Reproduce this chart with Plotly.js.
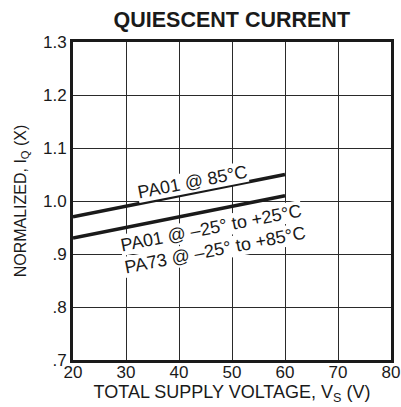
<!DOCTYPE html>
<html><head><meta charset="utf-8">
<script src="https://cdn.plot.ly/plotly-3.0.1.min.js"></script>
<style>html,body{margin:0;padding:0;background:#fff}#c{width:401px;height:407px}</style>
</head><body><div id="c"></div>
<script>
const voltage = [20, 60];
const pa01_85C = [0.97, 1.05];
const pa01_pa73_lowT = [0.93, 1.01];
const labels = ["PA01 @ 85°C", "PA01 @ –25° to +25°C", "PA73 @ –25° to +85°C"];
const xTicks = [20, 30, 40, 50, 60, 70, 80];
const yTicks = [0.7, 0.8, 0.9, 1.0, 1.1, 1.2, 1.3];
const yTickText = [".7", ".8", ".9", "1.0", "1.1", "1.2", "1.3"];

const font = "Liberation Sans, Arial, Helvetica, sans-serif";
const traces = [
  {x: voltage, y: pa01_85C, mode: "lines", line: {color: "#1a1a1a", width: 3.5}, hoverinfo: "skip"},
  {x: voltage, y: pa01_pa73_lowT, mode: "lines", line: {color: "#1a1a1a", width: 3.5}, hoverinfo: "skip"}
];
const layout = {
  width: 401, height: 407,
  margin: {l: 73, r: 10, t: 42, b: 47},
  paper_bgcolor: "#fff", plot_bgcolor: "#fff",
  showlegend: false,
  font: {family: font, color: "#1a1a1a", size: 17},
  title: {text: "<b>QUIESCENT CURRENT</b>", font: {family: font, size: 21.5, color: "#1a1a1a"}, x: 0.578, xanchor: "center", y: 0.97, yanchor: "top"},
  xaxis: {range: [20, 80], tickvals: xTicks, ticks: "", showgrid: true, gridcolor: "#2a2a2a", gridwidth: 1,
    showline: true, linecolor: "#1a1a1a", linewidth: 3, mirror: true, zeroline: false, fixedrange: true,
    tickfont: {size: 17}, ticklabelstandoff: -5,
    title: {text: "TOTAL SUPPLY VOLTAGE, V<sub>S</sub> (V)", font: {size: 18}, standoff: 2}},
  yaxis: {range: [0.7, 1.3], tickvals: yTicks, ticktext: yTickText, ticks: "", showgrid: true, gridcolor: "#2a2a2a", gridwidth: 1,
    showline: true, linecolor: "#1a1a1a", linewidth: 3, mirror: true, zeroline: false, fixedrange: true,
    tickfont: {size: 17},
    title: {text: "NORMALIZED, I<sub>Q</sub> (X)", font: {size: 16}, standoff: 13}},
  annotations: [
    {x: 42.5, y: 1.035, text: labels[0], showarrow: false, textangle: -11, bgcolor: "#fff", font: {size: 18}, borderpad: 0},
    {x: 46, y: 0.95, text: labels[1], showarrow: false, textangle: -11, bgcolor: "#fff", font: {size: 18}, borderpad: 0},
    {x: 46.8, y: 0.908, text: labels[2], showarrow: false, textangle: -11, bgcolor: "#fff", font: {size: 18}, borderpad: 0}
  ]
};
Plotly.newPlot("c", traces, layout, {displayModeBar: false, staticPlot: true});
</script></body></html>
